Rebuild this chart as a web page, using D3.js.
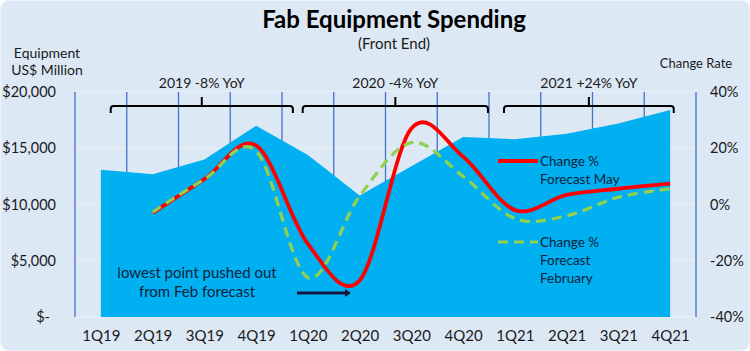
<!DOCTYPE html>
<html><head><meta charset="utf-8">
<script src="https://cdn.jsdelivr.net/npm/d3@7"></script>
<style>
html,body{margin:0;padding:0;background:#fff;}
svg{display:block;font-family:Lato,"Open Sans",sans-serif;}
</style></head>
<body><svg id="c" width="750" height="351"></svg>
<script>
const categories = ["1Q19","2Q19","3Q19","4Q19","1Q20","2Q20","3Q20","4Q20","1Q21","2Q21","3Q21","4Q21"];
const equipmentSpend = [13100,12700,14000,17000,14400,10800,13400,16000,15800,16300,17200,18400];
const changeMay = [null,-3,9,21,-14,-27,27,17,-2,3.4,5.6,7.4];
const changeFeb = [null,-2.7,9,19,-26,3,22,10,-5,-4,2.6,5.6];
const leftTicks = [0,5000,10000,15000,20000];
const rightTicks = [-40,-20,0,20,40];
const bracketLabels = ["2019 -8% YoY","2020 -4% YoY","2021 +24% YoY"];
// bracket extents in category-index units (annotation placement)
const bracketSpans = [[0.19,3.71],[3.90,7.48],[7.79,11.07]];

const svg = d3.select("#c");
const W = 750, H = 351;
const L = 75, R = 696, T = 92, B = 317;

svg.append("rect").attr("x",0.5).attr("y",0.5).attr("width",W-1).attr("height",H-1)
  .attr("rx",8).attr("fill","#DDE8F5").attr("stroke","#eef3fa").attr("stroke-width",1);

const x = d3.scalePoint().domain(categories).range([L,R]).padding(0.5);
const step = x.step();
const xi = i => x(categories[0]) + i*step;
const yL = d3.scaleLinear().domain([0,20000]).range([B,T]);
const yR = d3.scaleLinear().domain([-40,40]).range([B,T]);

// gridlines
svg.append("g").selectAll("line").data(leftTicks).join("line")
  .attr("x1",L).attr("x2",R).attr("y1",d=>yL(d)).attr("y2",d=>yL(d))
  .attr("stroke","#eaf0f8").attr("stroke-width",1);

// vertical separators
const seps = categories.map(c=>x(c)-step/2).concat([x(categories[categories.length-1])+step/2]);
svg.append("g").selectAll("line").data(seps).join("line")
  .attr("x1",d=>d).attr("x2",d=>d).attr("y1",T).attr("y2",B)
  .attr("stroke","#4472C4").attr("stroke-width",1.3);

// area
const area = d3.area().x((d,i)=>x(categories[i])).y0(B).y1(d=>yL(d));
svg.append("path").datum(equipmentSpend).attr("d",area).attr("fill","#00B0F0");

// lines
const line = d3.line().defined(d=>d!=null).x((d,i)=>x(categories[i])).y(d=>yR(d))
  .curve(d3.curveCardinal.tension(0));
svg.append("path").datum(changeMay).attr("d",line).attr("fill","none")
  .attr("stroke","#FF0000").attr("stroke-width",3.8).attr("stroke-linejoin","round");
svg.append("path").datum(changeFeb).attr("d",line).attr("fill","none")
  .attr("stroke","#92D050").attr("stroke-width",3.2).attr("stroke-dasharray","10,6");

// left axis
const axL = svg.append("g").attr("transform",`translate(${L},0)`)
  .call(d3.axisLeft(yL).tickValues(leftTicks).tickSize(0).tickPadding(19)
    .tickFormat(d=>d===0?"$-":"$"+d3.format(",")(d)));
axL.select(".domain").remove();
axL.selectAll("text").attr("font-size",14.5).attr("fill","#1a1a1a").attr("font-family","Lato")
  .attr("dx",d=>d===0?-6:0);

// right axis
const axR = svg.append("g").attr("transform",`translate(${R},0)`)
  .call(d3.axisRight(yR).tickValues(rightTicks).tickSize(0).tickPadding(14)
    .tickFormat(d=>d+"%"));
axR.select(".domain").remove();
axR.selectAll("text").attr("font-size",14.5).attr("fill","#1a1a1a").attr("font-family","Lato");

// x axis
const axX = svg.append("g").attr("transform",`translate(0,${B})`)
  .call(d3.axisBottom(x).tickSize(0).tickPadding(13));
axX.select(".domain").remove();
axX.selectAll("text").attr("font-size",15).attr("fill","#1a1a1a").attr("font-family","Lato");

// titles
svg.append("text").attr("x",394).attr("y",28).attr("text-anchor","middle")
  .attr("font-size",24).attr("font-weight","bold").attr("fill","#000").text("Fab Equipment Spending");
svg.append("text").attr("x",394).attr("y",49).attr("text-anchor","middle")
  .attr("font-size",15).attr("fill","#1a1a1a").text("(Front End)");
svg.append("text").attr("x",47).attr("y",58).attr("text-anchor","middle")
  .attr("font-size",14).attr("fill","#1a1a1a").text("Equipment");
svg.append("text").attr("x",47).attr("y",75).attr("text-anchor","middle")
  .attr("font-size",14).attr("fill","#1a1a1a").text("US$ Million");
svg.append("text").attr("x",696).attr("y",68).attr("text-anchor","middle")
  .attr("font-size",13).attr("fill","#1a1a1a").text("Change Rate");

// brackets
const bg = svg.append("g");
bracketLabels.forEach((lab,k)=>{
  const xa = xi(bracketSpans[k][0]), xb = xi(bracketSpans[k][1]);
  const mid = (xa+xb)/2;
  const yTop = 106, yEnd = 113, r = 3;
  const p = `M${xa},${yEnd} L${xa},${yTop+r} Q${xa},${yTop} ${xa+r},${yTop} L${xb-r},${yTop} Q${xb},${yTop} ${xb},${yTop+r} L${xb},${yEnd}`;
  bg.append("path").attr("d",p).attr("fill","none").attr("stroke","#000").attr("stroke-width",2);
  bg.append("line").attr("x1",mid).attr("x2",mid).attr("y1",yTop).attr("y2",97)
    .attr("stroke","#000").attr("stroke-width",2);
  bg.append("text").attr("x",mid).attr("y",88).attr("text-anchor","middle")
    .attr("font-size",14).attr("fill","#1a1a1a").text(lab);
});

// legend
const lg = svg.append("g");
lg.append("line").attr("x1",498).attr("x2",538).attr("y1",161).attr("y2",161)
  .attr("stroke","#FF0000").attr("stroke-width",3.8);
lg.append("text").attr("x",540).attr("y",166).attr("font-size",13.5).attr("fill","#0f1f3a").text("Change %");
lg.append("text").attr("x",540).attr("y",184).attr("font-size",13.5).attr("fill","#0f1f3a").text("Forecast May");
lg.append("line").attr("x1",498).attr("x2",538).attr("y1",242).attr("y2",242)
  .attr("stroke","#92D050").attr("stroke-width",3.2).attr("stroke-dasharray","10,6");
lg.append("text").attr("x",540).attr("y",247).attr("font-size",13.5).attr("fill","#0f1f3a").text("Change %");
lg.append("text").attr("x",540).attr("y",265).attr("font-size",13.5).attr("fill","#0f1f3a").text("Forecast");
lg.append("text").attr("x",540).attr("y",283).attr("font-size",13.5).attr("fill","#0f1f3a").text("February");

// annotation
svg.append("text").attr("x",197).attr("y",278).attr("text-anchor","middle")
  .attr("font-size",15).attr("fill","#0f1f3a").text("lowest point pushed out");
svg.append("text").attr("x",197).attr("y",297).attr("text-anchor","middle")
  .attr("font-size",15).attr("fill","#0f1f3a").text("from Feb forecast");
svg.append("line").attr("x1",297).attr("x2",346).attr("y1",293).attr("y2",293)
  .attr("stroke","#14163f").attr("stroke-width",3);
svg.append("path").attr("d","M345,289 L351,293 L345,297 Z").attr("fill","#14163f");
</script></body></html>
